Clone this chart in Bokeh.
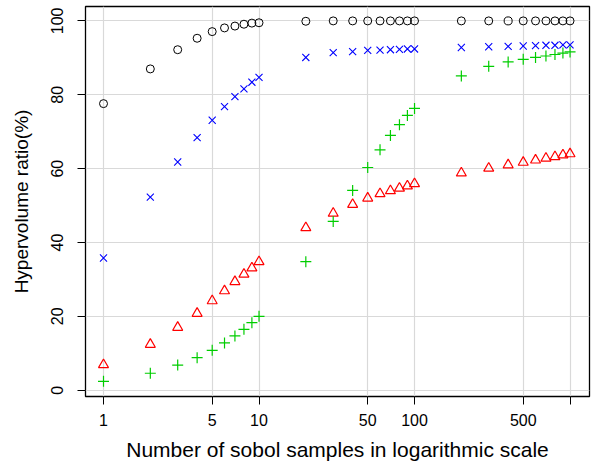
from bokeh.plotting import figure
from bokeh.models import FixedTicker, CustomJSTickFormatter, Range1d
from bokeh.embed import file_html
from bokeh.resources import INLINE

x_vals = [1, 2, 3, 4, 5, 6, 7, 8, 9, 10,
          20, 30, 40, 50, 60, 70, 80, 90, 100,
          200, 300, 400, 500, 600, 700, 800, 900, 1000]

black_circle = [77.6, 87.0, 92.2, 95.3, 97.1, 98.1, 98.6, 99.1, 99.4, 99.5,
                99.9, 100, 100, 100, 100, 100, 100, 100, 100,
                100, 100, 100, 100, 100, 100, 100, 100, 100]
blue_x = [35.8, 52.3, 61.8, 68.4, 73.1, 76.8, 79.5, 81.6, 83.4, 84.7,
          90.1, 91.4, 91.7, 92.0, 92.1, 92.2, 92.3, 92.4, 92.4,
          92.8, 93.0, 93.1, 93.2, 93.3, 93.4, 93.4, 93.5, 93.5]
red_triangle = [6.9, 12.4, 17.0, 20.8, 24.2, 26.9, 29.4, 31.4, 33.1, 34.8,
                44.0, 47.9, 50.3, 52.0, 53.2, 54.0, 54.7, 55.3, 55.9,
                58.8, 60.1, 61.0, 61.7, 62.3, 62.8, 63.2, 63.7, 64.0]
green_plus = [2.4, 4.6, 6.8, 8.8, 10.8, 12.8, 14.7, 16.5, 18.3, 20.0,
              34.8, 45.7, 54.1, 60.3, 65.1, 69.0, 71.9, 74.4, 76.3,
              85.1, 87.7, 88.9, 89.6, 90.1, 90.5, 90.9, 91.3, 91.6]

x_ticks = [1, 5, 10, 50, 100, 500, 1000]
y_ticks = [0, 20, 40, 60, 80, 100]

FONT = "Liberation Sans"

p = figure(width=595, height=462, x_axis_type="log",
           x_range=Range1d(0.766, 1334), y_range=Range1d(-1.7, 103.9),
           output_backend="svg", toolbar_location=None,
           min_border_left=85, min_border_right=6, min_border_top=6, min_border_bottom=66)
p.frame_width = 504
p.frame_height = 390

p.outline_line_color = "black"
p.outline_line_width = 1.3
p.background_fill_color = "white"
p.border_fill_color = "white"

p.xaxis.ticker = FixedTicker(ticks=x_ticks)
p.xaxis.formatter = CustomJSTickFormatter(code="return tick >= 1000 ? '' : String(Math.round(tick));")
p.yaxis.ticker = FixedTicker(ticks=y_ticks)

for ax in (p.xaxis[0], p.yaxis[0]):
    ax.axis_line_color = None
    ax.major_tick_line_color = "black"
    ax.major_tick_line_width = 1
    ax.major_tick_out = 8
    ax.major_tick_in = 0
    ax.minor_tick_line_color = None
    ax.major_label_text_font = FONT
    ax.major_label_text_font_size = "16px"
    ax.major_label_text_color = "black"
    ax.axis_label_text_font = FONT
    ax.axis_label_text_font_style = "normal"
    ax.axis_label_text_color = "black"

p.xaxis.axis_label = "Number of sobol samples in logarithmic scale"
p.yaxis.axis_label = "Hypervolume ratio(%)"
p.xaxis.axis_label_text_font_size = "21px"
p.yaxis.axis_label_text_font_size = "19px"
p.xaxis.major_label_standoff = 9
p.xaxis.axis_label_standoff = 9
p.yaxis.major_label_orientation = "vertical"
p.yaxis.major_label_standoff = 14
p.yaxis.axis_label_standoff = 17

p.xgrid.ticker = FixedTicker(ticks=x_ticks)
p.ygrid.ticker = FixedTicker(ticks=y_ticks)
for g in (p.xgrid[0], p.ygrid[0]):
    g.grid_line_color = "#d9d9d9"
    g.grid_line_width = 1.2

p.scatter(x_vals, black_circle, marker="circle", size=8, fill_color=None,
          line_color="black", line_width=1)
p.scatter(x_vals, blue_x, marker="x", size=10, line_color="#0000ff", line_width=1.1)
p.scatter(x_vals, red_triangle, marker="triangle", size=10, fill_color=None,
          line_color="#ff0000", line_width=1.2)
p.scatter(x_vals, green_plus, marker="cross", size=11, line_color="#00cd00", line_width=1.2)

open("out.html", "w").write(file_html(p, INLINE))
